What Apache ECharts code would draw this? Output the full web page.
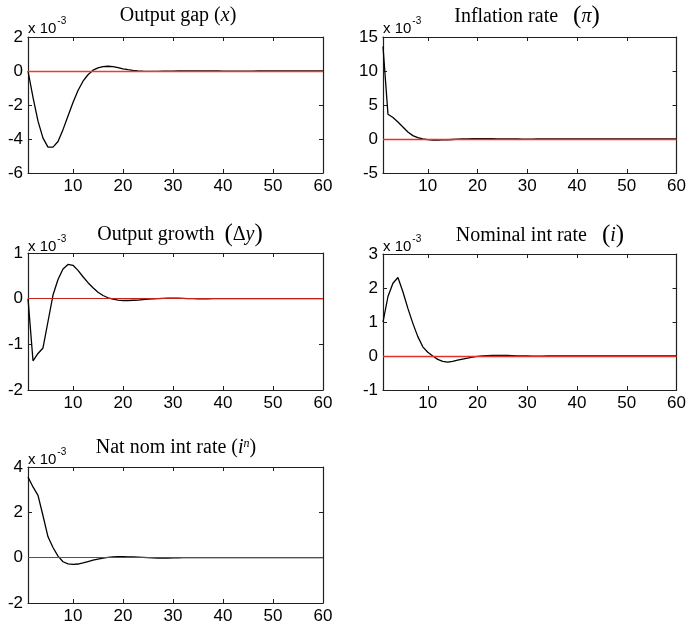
<!DOCTYPE html>
<html>
<head>
<meta charset="utf-8">
<script src="https://cdn.jsdelivr.net/npm/echarts@6/dist/echarts.min.js"></script>
<style>html,body{margin:0;padding:0;background:#fff}#c{width:689px;height:626px}</style>
</head>
<body>
<div id="c"></div>
<script>
// Values are in units of 10^-3, periods 1..60
const outputGap = [0, -1.55, -2.95, -3.95, -4.48, -4.48, -4.15, -3.45, -2.65, -1.85, -1.15, -0.6, -0.22, 0.05, 0.18, 0.26, 0.28, 0.26, 0.2, 0.13, 0.08, 0.04, 0.01, -0.01, -0.02, -0.025, -0.02, -0.015, -0.01, -0.005, 0, 0.005, 0.01, 0.01, 0.01, 0.008, 0.005, 0.003, 0, -0.002, -0.004, -0.005, -0.005, -0.004, -0.003, -0.002, 0, 0.001, 0.002, 0.002, 0.002, 0.002, 0.001, 0, 0, 0, 0, 0, 0, 0];
const inflation = [13.6, 3.65, 3.15, 2.5, 1.77, 1.03, 0.5, 0.2, 0.0, -0.1, -0.15, -0.16, -0.14, -0.11, -0.07, -0.03, 0, 0.02, 0.04, 0.05, 0.05, 0.05, 0.04, 0.03, 0.02, 0.01, 0, 0, -0.005, -0.005, -0.005, 0, 0, 0, 0, 0, 0, 0, 0, 0, 0, 0, 0, 0, 0, 0, 0, 0, 0, 0, 0, 0, 0, 0, 0, 0, 0, 0, 0, 0];
const outputGrowth = [0, -1.36, -1.2, -1.08, -0.5, 0.08, 0.42, 0.65, 0.75, 0.73, 0.62, 0.48, 0.35, 0.24, 0.14, 0.07, 0.02, -0.01, -0.03, -0.04, -0.04, -0.035, -0.03, -0.02, -0.01, -0.005, 0, 0.005, 0.01, 0.01, 0.01, 0.005, 0, 0, -0.002, -0.002, -0.002, 0, 0, 0, 0, 0, 0, 0, 0, 0, 0, 0, 0, 0, 0, 0, 0, 0, 0, 0, 0, 0, 0, 0];
const nominalRate = [1.0, 1.75, 2.14, 2.31, 1.89, 1.4, 0.96, 0.57, 0.27, 0.11, 0.0, -0.1, -0.16, -0.18, -0.16, -0.12, -0.09, -0.06, -0.03, -0.01, 0, 0.01, 0.015, 0.02, 0.02, 0.015, 0.01, 0.005, 0, 0, -0.003, -0.003, -0.002, 0, 0, 0, 0, 0, 0, 0, 0, 0, 0, 0, 0, 0, 0, 0, 0, 0, 0, 0, 0, 0, 0, 0, 0, 0, 0, 0];
const natRate = [3.56, 3.12, 2.75, 1.85, 0.92, 0.45, 0.07, -0.18, -0.27, -0.3, -0.28, -0.23, -0.17, -0.11, -0.06, -0.02, 0.01, 0.03, 0.04, 0.04, 0.035, 0.03, 0.02, 0.01, 0, -0.01, -0.015, -0.015, -0.015, -0.01, -0.005, 0, 0, 0, 0, 0, 0, 0, 0, 0, 0, 0, 0, 0, 0, 0, 0, 0, 0, 0, 0, 0, 0, 0, 0, 0, 0, 0, 0, 0];
const xTickLabels = [10, 20, 30, 40, 50, 60];
const yRanges = [[-6, 2, 2], [-5, 15, 5], [-2, 1, 1], [-1, 3, 1], [-2, 4, 2]];
const seriesList = [outputGap, inflation, outputGrowth, nominalRate, natRate];
const titles = [
  '{t|Output gap (}{ti|x}{t|)}',
  '{t|Inflation rate   }{p|(}{ti|π}{p|)}',
  '{t|Output growth  }{p|(}{t|Δ}{ti|y}{p|)}',
  '{t|Nominal int rate   }{p|(}{ti|i}{p|)}',
  '{t|Nat nom int rate (}{ti|i}{sup|n}{t|)}'
];

const grids = [
  {left: 28, top: 37, width: 295, height: 136},
  {left: 383, top: 37, width: 295, height: 136},
  {left: 28, top: 253, width: 295, height: 137},
  {left: 383, top: 254, width: 295, height: 136},
  {left: 28, top: 467, width: 295, height: 136}
];
const titlePos = [[178, 6], [527, 4], [180, 222], [540, 223], [176, 438]];
const scalePos = [[28, 16], [383, 16], [28, 234], [383, 234], [28, 447]];
const zeroStyle = [
  {color: '#ee3b32', width: 1.4}, {color: '#e6312a', width: 1.4},
  {color: '#c4221a', width: 1}, {color: '#e6312a', width: 1.4}, {color: '#c4221a', width: 1}
];

const axisColor = '#1f1f1f';
const option = {
  animation: false,
  backgroundColor: '#fff',
  grid: grids.map(g => Object.assign({containLabel: false}, g)),
  title: [],
  xAxis: [], yAxis: [], series: []
};
const titleRich = {
  t: {fontFamily: 'Liberation Serif', fontWeight: 'normal', fontSize: 20, color: '#000'},
  ti: {fontFamily: 'Liberation Serif', fontWeight: 'normal', fontStyle: 'italic', fontSize: 20, color: '#000'},
  p: {fontFamily: 'Liberation Serif', fontWeight: 'normal', fontSize: 25, color: '#000'},
  sup: {fontFamily: 'Liberation Serif', fontWeight: 'normal', fontStyle: 'italic', fontSize: 12, color: '#000', verticalAlign: 'top', padding: [0, 0, 8, 0]}
};
for (let k = 0; k < 5; k++) {
  option.title.push({
    text: titles[k], left: titlePos[k][0], top: titlePos[k][1], textAlign: 'center', padding: 0,
    textStyle: {fontWeight: 'normal', rich: titleRich}
  });
  option.title.push({
    text: '{a|x 10}{b|-3}', left: scalePos[k][0], top: scalePos[k][1], padding: 0,
    textStyle: {fontWeight: 'normal', rich: {
      a: {fontFamily: 'Liberation Sans', fontWeight: 'normal', fontSize: 15, color: '#000', verticalAlign: 'bottom'},
      b: {fontFamily: 'Liberation Sans', fontWeight: 'normal', fontSize: 10, color: '#000', verticalAlign: 'top', padding: [0, 0, 10, 1]}
    }}
  });
  const [ymin, ymax, yint] = yRanges[k];
  const base = {gridIndex: k, type: 'value', min: 1, max: 60,
    axisLine: {show: true, onZero: false, lineStyle: {color: axisColor, width: 1.2}},
    axisTick: {show: true, inside: true, length: 4, customValues: [10, 20, 30, 40, 50], lineStyle: {color: axisColor}},
    splitLine: {show: false}};
  option.xAxis.push(Object.assign({}, base, {position: 'bottom',
    axisLabel: {show: true, customValues: xTickLabels, fontFamily: 'Liberation Sans', fontSize: 17, color: '#000', margin: 5}}));
  option.xAxis.push(Object.assign({}, base, {position: 'top', axisLabel: {show: false}}));
  const ybase = {gridIndex: k, type: 'value', min: ymin, max: ymax, interval: yint,
    axisLine: {show: true, onZero: false, lineStyle: {color: axisColor, width: 1.2}},
    axisTick: {show: true, inside: true, length: 4, lineStyle: {color: axisColor}},
    splitLine: {show: false}};
  option.yAxis.push(Object.assign({}, ybase, {position: 'left',
    axisLabel: {show: true, fontFamily: 'Liberation Sans', fontSize: 17, color: '#000', margin: 5}}));
  option.yAxis.push(Object.assign({}, ybase, {position: 'right', axisLabel: {show: false}}));
  option.series.push({
    type: 'line', xAxisIndex: 2 * k, yAxisIndex: 2 * k,
    data: seriesList[k].map((v, i) => [i + 1, v]),
    symbol: 'none', smooth: false,
    lineStyle: {color: '#000', width: 1.3},
    markLine: {silent: true, symbol: 'none', label: {show: false},
      lineStyle: {color: zeroStyle[k].color, width: zeroStyle[k].width, type: 'solid'},
      data: [{yAxis: 0}]},
    z: 3
  });
}
const chart = echarts.init(document.getElementById('c'), null, {renderer: 'canvas'});
chart.setOption(option);
</script>
</body>
</html>
